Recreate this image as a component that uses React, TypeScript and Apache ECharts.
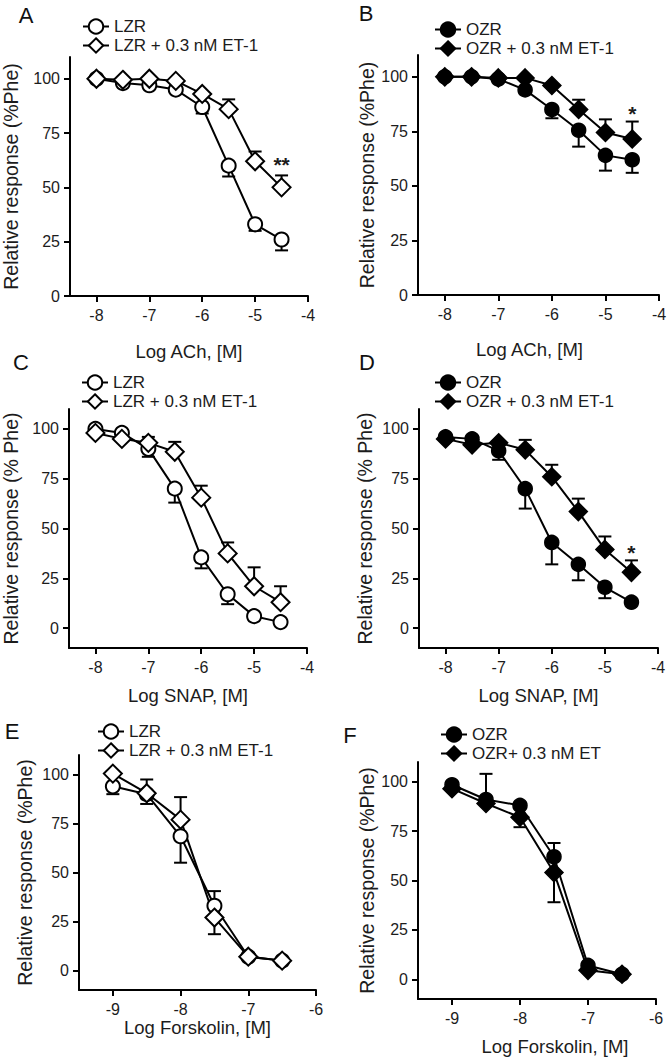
import React, { useEffect, useRef } from "react";
import * as echarts from "echarts";

// ---------- data ----------
const xACh = [-8, -7.5, -7, -6.5, -6, -5.5, -5, -4.5];
const xSNAP = [-8, -7.5, -7, -6.5, -6, -5.5, -5, -4.5];
const xFsk = [-9, -8.5, -8, -7.5, -7, -6.5];

const aLZR = [100, 98, 97, 95, 87, 60, 33, 26];
const aLZRErr = [null, null, null, null, 84, 55, 30, 21];
const aLZRET = [100, 99.5, 100, 99, 93, 86, 62, 50];
const aLZRETErr = [null, null, null, null, null, 90.5, 66.5, 55.5];

const bOZR = [100, 100, 99, 94, 85, 75.5, 64, 62];
const bOZRErr = [null, null, null, null, 81, 68, 57, 56];
const bOZRET = [100, 100, 99.5, 99.5, 96, 85, 74.5, 71.5];
const bOZRETErr = [null, null, null, null, null, 89.5, 80.5, 79.5];

const cLZR = [100, 98, 90, 70, 35.5, 17, 6, 3];
const cLZRErr = [null, null, 86, 63, 30, 12, null, null];
const cLZRET = [98, 95, 93, 88.5, 65.5, 37.5, 21, 13];
const cLZRETErr = [null, null, 96, 93.5, 71.5, 43, 30.5, 21];

const dOZR = [96, 95, 89, 70, 43, 32, 20.5, 13];
const dOZRErr = [null, null, 84.5, 60, 32, 24, 15, null];
const dOZRET = [95, 92, 93, 89.5, 76, 58.5, 39.5, 28];
const dOZRETErr = [null, null, null, 94.5, 82, 65, 46, 34];

const eLZR = [94, 90, 68.5, 33, 7, 5];
const eLZRErr = [90, 85, 55, 40.5, null, null];
const eLZRET = [100.5, 90.5, 77, 27, 7, 5];
const eLZRETErr = [null, 97.5, 88.5, 18.5, null, null];

const fOZR = [98.5, 91, 88, 62, 7, 2.5];
const fOZRErr = [null, 104, null, 69, null, null];
const fOZRET = [96.5, 89, 82, 54, 4.5, 2.5];
const fOZRETErr = [null, null, 77, 39, null, null];

const yTicks = [0, 25, 50, 75, 100];
const xTicksACh = [-8, -7, -6, -5, -4];
const xTicksFsk = [-9, -8, -7, -6];

const sigA = [[-4.5, 62.6, "**"]];
const sigB = [[-4.5, 85.5, "*"]];
const sigD = [[-4.5, 40.7, "*"]];

const nameLZR = "LZR";
const nameLZRET = "LZR + 0.3 nM ET-1";
const nameOZR = "OZR";
const nameOZRET = "OZR + 0.3 nM ET-1";
const nameOZRETF = "OZR+ 0.3 nM ET";

// ---------- layout / style ----------
const FONT = "'Liberation Sans', Arial, Helvetica, sans-serif";
const TXT = "#1c1c1c";

const panels = [
  {
    letter: "A", lx: 26, ly: 15,
    grid: { left: 70, top: 57, width: 238, height: 239 },
    x: xACh, xr: [-8.5, -4], xt: xTicksACh, yr: [0, 110],
    xName: "Log ACh, [M]", xGap: 46, xPad: 0,
    yName: "Relative response (%Phe)", yGap: 49,
    s1: [nameLZR, aLZR, aLZRErr], s2: [nameLZRET, aLZRET, aLZRETErr],
    filled: false, leg: [95, 27], sig: sigA,
  },
  {
    letter: "B", lx: 366, ly: 13,
    grid: { left: 418, top: 55, width: 241, height: 240 },
    x: xACh, xr: [-8.5, -4], xt: xTicksACh, yr: [0, 110],
    xName: "Log ACh, [M]", xGap: 45, xPad: -18,
    yName: "Relative response (%Phe)", yGap: 41,
    s1: [nameOZR, bOZR, bOZRErr], s2: [nameOZRET, bOZRET, bOZRETErr],
    filled: true, leg: [447, 30], sig: sigB,
  },
  {
    letter: "C", lx: 21, ly: 362,
    grid: { left: 68, top: 409, width: 239, height: 239 },
    x: xSNAP, xr: [-8.5, -4], xt: xTicksACh, yr: [-10, 110],
    xName: "Log SNAP, [M]", xGap: 38, xPad: 0,
    yName: "Relative response (% Phe)", yGap: 48,
    s1: [nameLZR, cLZR, cLZRErr], s2: [nameLZRET, cLZRET, cLZRETErr],
    filled: false, leg: [94, 383], sig: [],
  },
  {
    letter: "D", lx: 367, ly: 362,
    grid: { left: 419, top: 409, width: 239, height: 239 },
    x: xSNAP, xr: [-8.5, -4], xt: xTicksACh, yr: [-10, 110],
    xName: "Log SNAP, [M]", xGap: 38, xPad: 0,
    yName: "Relative response (% Phe)", yGap: 44,
    s1: [nameOZR, dOZR, dOZRErr], s2: [nameOZRET, dOZRET, dOZRETErr],
    filled: true, leg: [447, 383], sig: sigD,
  },
  {
    letter: "E", lx: 12, ly: 731,
    grid: { left: 79, top: 755, width: 237, height: 235 },
    x: xFsk, xr: [-9.5, -6], xt: xTicksFsk, yr: [-10, 110],
    xName: "Log Forskolin, [M]", xGap: 24, xPad: 0,
    yName: "Relative response (%Phe)", yGap: 44,
    s1: [nameLZR, eLZR, eLZRErr], s2: [nameLZRET, eLZRET, eLZRETErr],
    filled: false, leg: [110, 732], sig: [],
  },
  {
    letter: "F", lx: 350, ly: 735,
    grid: { left: 418, top: 762, width: 238, height: 237 },
    x: xFsk, xr: [-9.5, -6], xt: xTicksFsk, yr: [-10, 110],
    xName: "Log Forskolin, [M]", xGap: 38, xPad: 36,
    yName: "Relative response (%Phe)", yGap: 41,
    s1: [nameOZR, fOZR, fOZRErr], s2: [nameOZRETF, fOZRET, fOZRETErr],
    filled: true, leg: [453, 735], sig: [],
  },
];

function errRender(params: any, api: any) {
  const x = api.value(0);
  const y = api.value(1);
  const e = api.value(2);
  const p0 = api.coord([x, y]);
  const p1 = api.coord([x, e]);
  const hw = 6.5;
  const st = { stroke: "#000", lineWidth: 2 };
  return {
    type: "group",
    children: [
      { type: "line", shape: { x1: p0[0], y1: p0[1], x2: p1[0], y2: p1[1] }, style: st },
      { type: "line", shape: { x1: p1[0] - hw, y1: p1[1], x2: p1[0] + hw, y2: p1[1] }, style: st },
    ],
  };
}

function sigRender(params: any, api: any) {
  const p = api.coord([api.value(0), api.value(1)]);
  const txt = api.value(2);
  return {
    type: "text",
    x: p[0],
    y: p[1] + 5,
    style: {
      text: String(txt),
      fill: TXT,
      fontSize: 21,
      fontWeight: "bold",
      fontFamily: FONT,
      align: "center",
      verticalAlign: "middle",
    },
  };
}

function buildOption() {
  const grid: any[] = [];
  const xAxis: any[] = [];
  const yAxis: any[] = [];
  const series: any[] = [];
  const legend: any[] = [];
  const graphic: any[] = [];

  panels.forEach((p, i) => {
    grid.push({ ...p.grid, containLabel: false });
    xAxis.push({
      type: "value",
      gridIndex: i,
      min: p.xr[0],
      max: p.xr[1],
      splitLine: { show: false },
      axisLine: { show: true, onZero: false, lineStyle: { color: "#000", width: 2 } },
      axisTick: { show: true, length: 6, customValues: p.xt, lineStyle: { color: "#000", width: 2 } },
      axisLabel: { customValues: p.xt, margin: 11, fontSize: 16, color: TXT, fontFamily: FONT },
      name: p.xName,
      nameLocation: "middle",
      nameGap: p.xGap,
      nameTextStyle: {
        fontSize: 18.5,
        color: TXT,
        fontFamily: FONT,
        padding: p.xPad >= 0 ? [0, 0, 0, p.xPad] : [0, -p.xPad, 0, 0],
      },
    });
    yAxis.push({
      type: "value",
      gridIndex: i,
      min: p.yr[0],
      max: p.yr[1],
      splitLine: { show: false },
      axisLine: { show: true, onZero: false, lineStyle: { color: "#000", width: 2 } },
      axisTick: { show: true, length: 6, customValues: yTicks, lineStyle: { color: "#000", width: 2 } },
      axisLabel: { customValues: yTicks, margin: 10, fontSize: 16, color: TXT, fontFamily: FONT },
      name: p.yName,
      nameLocation: "middle",
      nameRotate: 90,
      nameGap: p.yGap,
      nameTextStyle: { fontSize: 19.5, color: TXT, fontFamily: FONT },
    });

    const mk = (s: any[], sym: string, size: number) => ({
      type: "line",
      name: s[0],
      xAxisIndex: i,
      yAxisIndex: i,
      data: p.x.map((xv, k) => [xv, s[1][k]]),
      symbol: sym,
      symbolSize: size,
      showAllSymbol: true,
      silent: true,
      z: 3,
      lineStyle: { color: "#000", width: 2 },
      itemStyle: p.filled
        ? { color: "#000", borderColor: "#000", borderWidth: 1.5 }
        : { color: "#fff", borderColor: "#000", borderWidth: 2 },
    });
    const mkErr = (s: any[]) => ({
      type: "custom",
      xAxisIndex: i,
      yAxisIndex: i,
      silent: true,
      z: 1,
      renderItem: errRender,
      data: p.x
        .map((xv, k) => (s[2][k] == null ? null : [xv, s[1][k], s[2][k]]))
        .filter((d) => d !== null),
    });
    series.push(mkErr(p.s1), mkErr(p.s2));
    series.push(mk(p.s1, "circle", 14), mk(p.s2, "diamond", 18));
    if (p.sig.length) {
      series.push({
        type: "custom",
        xAxisIndex: i,
        yAxisIndex: i,
        silent: true,
        z: 4,
        renderItem: sigRender,
        dimensions: ["x", "y", { name: "t", type: "ordinal" }],
        data: p.sig,
      });
    }
    legend.push({
      orient: "vertical",
      left: p.leg[0] - 13,
      top: p.leg[1] - 9,
      itemWidth: 26,
      itemHeight: 18,
      itemGap: 2,
      padding: 0,
      selectedMode: false,
      data: [p.s1[0], p.s2[0]],
      textStyle: { fontSize: 17, color: TXT, fontFamily: FONT },
    });
    graphic.push({
      type: "text",
      x: p.lx,
      y: p.ly,
      style: {
        text: p.letter,
        fontSize: 22,
        fontFamily: FONT,
        fill: "#111",
        align: "center",
        verticalAlign: "middle",
      },
    });
  });

  return {
    animation: false,
    backgroundColor: "#fff",
    grid,
    xAxis,
    yAxis,
    series,
    legend,
    graphic,
  };
}

export default function App() {
  const ref = useRef<HTMLDivElement>(null);
  useEffect(() => {
    document.body.style.margin = "0";
    const chart = echarts.init(ref.current!, null, { renderer: "svg" });
    chart.setOption(buildOption() as any);
    return () => chart.dispose();
  }, []);
  return <div ref={ref} style={{ width: 670, height: 1062 }} />;
}
